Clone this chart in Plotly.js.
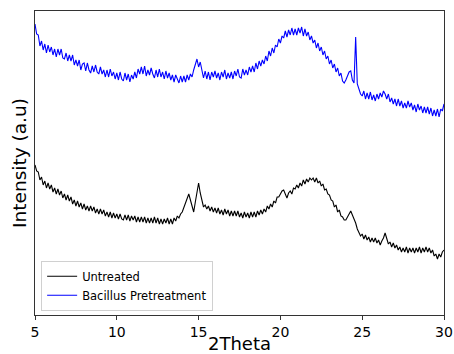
<!DOCTYPE html>
<html>
<head>
<meta charset="utf-8">
<script src="https://cdn.plot.ly/plotly-3.0.1.min.js"></script>
<style>html,body{margin:0;padding:0;background:#fff}#chart{width:454px;height:354px}</style>
</head>
<body>
<div id="chart"></div>
<script>
// 2Theta sampling grid (degrees)
const thetaStart = 5.0;
const thetaStep = 0.1;

// Intensity (a.u.), one value per 0.1 degree from 5.0 to 30.0
const untreated = [
  150,144,143,135,138,130,134,127,132,126,
  130,123,127,121,126,120,124,117,121,115,
  120,114,118,111,115,109,114,108,112,106,
  111,105,109,104,109,104,108,102,106,101,
  106,101,105,99,103,98,103,97,102,97,
  101,96,101,96,95,100,95,100,94,99,
  95,99,93,98,93,98,93,98,92,97,
  92,97,92,98,92,97,91,96,91,96,
  92,97,91,96,91,97,94,99,97,101,
  103,108,111,118,121,115,108,103,113,124,
  132,122,113,108,110,106,109,104,108,103,
  107,102,107,101,105,100,106,101,105,99,
  104,99,104,99,104,98,102,97,103,98,
  102,97,103,98,103,98,104,100,105,101,
  106,103,109,106,111,108,114,112,118,118,
  121,124,125,120,117,122,124,121,127,126,
  130,127,132,129,135,131,136,133,137,135,
  137,133,137,132,134,129,131,125,126,121,
  120,115,114,108,110,103,105,99,98,95,
  95,98,101,104,100,96,92,86,83,79,
  81,76,80,75,78,73,77,73,77,72,
  75,70,74,77,82,75,71,73,68,72,
  67,70,65,68,63,67,63,68,62,67,
  63,67,62,67,63,68,62,67,63,68,
  63,67,62,65,59,61,56,61,58,63,
  65
];

const bacillus = [
  291,281,280,269,274,265,271,262,270,263,
  268,260,266,258,266,260,266,257,256,262,
  254,260,254,260,250,255,249,255,245,251,
  252,244,252,245,242,249,243,250,243,241,
  248,241,245,238,245,238,246,239,243,236,
  242,235,243,236,234,242,235,241,233,240,
  236,243,237,246,241,248,241,249,239,245,
  240,247,241,237,245,238,246,238,243,236,
  244,237,242,235,240,233,240,235,232,239,
  233,239,233,240,235,241,238,245,251,256,
  248,253,245,237,244,236,243,235,243,238,
  244,237,242,235,243,238,245,236,242,237,
  243,236,244,239,246,238,237,246,240,245,
  240,248,243,249,243,252,246,254,249,255,
  251,259,254,264,259,267,262,270,268,276,
  272,279,277,284,278,285,280,287,280,286,
  280,287,282,288,279,286,279,283,275,279,
  272,275,267,272,264,268,260,264,256,259,
  251,255,247,251,243,247,239,242,234,232,
  235,239,243,244,235,232,278,231,226,221,
  219,224,216,222,216,223,215,220,214,221,
  216,222,218,224,221,216,221,213,217,211,
  216,209,216,209,214,207,212,207,214,208,
  212,205,210,203,211,205,209,202,208,202,
  208,201,207,199,205,199,206,198,206,204,
  211
];

const seriesNames = ["Untreated", "Bacillus Pretreatment"];
const xTicks = [5, 10, 15, 20, 25, 30];

const twoTheta = untreated.map((_, i) => +(thetaStart + i * thetaStep).toFixed(2));

const traces = [
  {x: twoTheta, y: untreated, name: seriesNames[0], type: "scatter", mode: "lines",
   line: {color: "#000000", width: 1.1}},
  {x: twoTheta, y: bacillus, name: seriesNames[1], type: "scatter", mode: "lines",
   line: {color: "#0000ff", width: 1.1}}
];

const font = "DejaVu Sans, sans-serif";
const layout = {
  width: 454, height: 354,
  margin: {l: 35, r: 10, t: 11, b: 39},
  paper_bgcolor: "#ffffff", plot_bgcolor: "#ffffff",
  font: {family: font, color: "#000000"},
  showlegend: true,
  legend: {x: 0.015, y: 0.014, xanchor: "left", yanchor: "bottom",
           bgcolor: "rgba(255,255,255,0.8)", bordercolor: "#d0d0d0", borderwidth: 1,
           itemwidth: 30, font: {family: font, size: 11.5, color: "#000"}, tracegroupgap: 0},
  xaxis: {range: [5, 30], tickvals: xTicks, ticktext: xTicks.map(String),
          ticks: "outside", ticklen: 4, tickcolor: "#333", tickwidth: 1,
          showgrid: false, zeroline: false, showline: true, mirror: true,
          linecolor: "#333", linewidth: 1,
          tickfont: {family: font, size: 14, color: "#000"},
          title: {text: "2Theta", font: {family: font, size: 18, color: "#000"}, standoff: 11}},
  yaxis: {range: [0, 304], showticklabels: false, ticks: "", showgrid: false,
          zeroline: false, showline: true, mirror: true, linecolor: "#333", linewidth: 1,
          title: {text: "Intensity (a.u)", font: {family: font, size: 18.5, color: "#000"}, standoff: 2}}
};

Plotly.newPlot("chart", traces, layout, {displayModeBar: false, staticPlot: true});
</script>
</body>
</html>
